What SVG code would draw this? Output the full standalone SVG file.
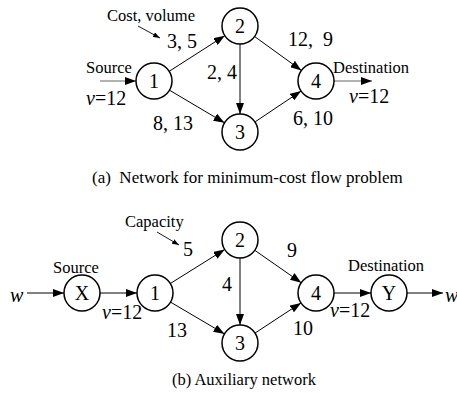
<svg xmlns="http://www.w3.org/2000/svg" width="457" height="393" viewBox="0 0 457 393" font-family="'Liberation Serif', 'Times New Roman', Times, 'DejaVu Serif', serif">
<style>
text{font-family:'Liberation Serif','Times New Roman',Times,'DejaVu Serif',serif;fill:#000}
.lbl{font-size:16.5px}
.num{font-size:20px}
.nd{font-size:20px;text-anchor:middle}
.cap{font-size:17px}
.it{font-style:italic}
circle{fill:#fff;stroke:#000;stroke-width:1.5}
.e{stroke:#000;stroke-width:1;fill:none;marker-end:url(#ah)}
.g{stroke:#666;stroke-width:1.2;fill:none;marker-end:url(#ah)}
.p{stroke:#000;stroke-width:0.9;fill:none;marker-end:url(#sh)}
</style>
<defs>
<marker id="ah" markerUnits="userSpaceOnUse" markerWidth="11" markerHeight="8" refX="11" refY="4" orient="auto"><path d="M0,0 L11,4 L0,8 z" fill="#000"/></marker>
<marker id="sh" markerUnits="userSpaceOnUse" markerWidth="7" markerHeight="5" refX="7" refY="2.5" orient="auto"><path d="M0,0 L7,2.5 L0,5 z" fill="#000"/></marker>
</defs>
<g id="connectors">
<line class="g" x1="100" y1="81" x2="136" y2="81"/>
<line class="e" x1="169.2" y1="71.3" x2="224.8" y2="35.7"/>
<line class="e" x1="169.5" y1="90.2" x2="224.5" y2="122.8"/>
<line class="e" x1="240" y1="44" x2="240" y2="114"/>
<line class="e" x1="254.6" y1="36.5" x2="301.4" y2="70.4"/>
<line class="e" x1="254.9" y1="122" x2="301.1" y2="91"/>
<line class="g" x1="334" y1="81" x2="372" y2="81"/>
<line class="p" x1="138" y1="26" x2="160" y2="38"/>
<line class="e" x1="27" y1="293" x2="64" y2="293"/>
<line class="e" x1="100" y1="293" x2="137" y2="293"/>
<line class="e" x1="170.3" y1="283.5" x2="224.7" y2="249.5"/>
<line class="e" x1="170.5" y1="302.1" x2="224.5" y2="333.9"/>
<line class="e" x1="240" y1="258" x2="240" y2="325"/>
<line class="e" x1="254.8" y1="250.3" x2="301.2" y2="282.7"/>
<line class="e" x1="255" y1="333.1" x2="301" y2="302.9"/>
<line class="e" x1="334" y1="293" x2="371" y2="293"/>
<line class="e" x1="407" y1="293" x2="443" y2="293"/>
<line class="p" x1="157" y1="232" x2="179" y2="245"/>
</g>
<g id="a-n1"><circle cx="154" cy="81" r="18"/><text class="nd" x="154" y="88">1</text></g>
<g id="a-n2"><circle cx="240" cy="26" r="18"/><text class="nd" x="240" y="33">2</text></g>
<g id="a-n3"><circle cx="240" cy="132" r="18"/><text class="nd" x="240" y="139">3</text></g>
<g id="a-n4"><circle cx="316" cy="81" r="18"/><text class="nd" x="316" y="88">4</text></g>
<g id="b-nX"><circle cx="82" cy="293" r="18"/><text class="nd" x="82" y="300">X</text></g>
<g id="b-n1"><circle cx="155" cy="293" r="18"/><text class="nd" x="155" y="300">1</text></g>
<g id="b-n2"><circle cx="240" cy="240" r="18"/><text class="nd" x="240" y="247">2</text></g>
<g id="b-n3"><circle cx="240" cy="343" r="18"/><text class="nd" x="240" y="350">3</text></g>
<g id="b-n4"><circle cx="316" cy="293" r="18"/><text class="nd" x="316" y="300">4</text></g>
<g id="b-nY"><circle cx="389" cy="293" r="18"/><text class="nd" x="389" y="300">Y</text></g>
<g id="labels">
<text class="lbl" x="107" y="21">Cost, volume</text>
<text class="num" x="167" y="48">3, 5</text>
<text class="lbl" x="86" y="73">Source</text>
<text class="num" x="86" y="105"><tspan class="it">v</tspan>=12</text>
<text class="num" x="153" y="130">8, 13</text>
<text class="num" x="207" y="79">2, 4</text>
<text class="num" x="288" y="46" xml:space="preserve">12,  9</text>
<text class="lbl" x="333" y="73">Destination</text>
<text class="num" x="349" y="103"><tspan class="it">v</tspan>=12</text>
<text class="num" x="293" y="125">6, 10</text>
<text class="cap" x="92" y="183" xml:space="preserve">(a)  Network for minimum-cost flow problem</text>
<text class="num it" x="10" y="302">w</text>
<text class="lbl" x="53" y="273">Source</text>
<text class="num" x="102" y="319"><tspan class="it">v</tspan>=12</text>
<text class="lbl" x="125" y="227">Capacity</text>
<text class="num" x="183" y="256">5</text>
<text class="num" x="167" y="337">13</text>
<text class="num" x="222" y="291">4</text>
<text class="num" x="287" y="257">9</text>
<text class="num" x="293" y="335">10</text>
<text class="lbl" x="348" y="271">Destination</text>
<text class="num" x="330" y="317"><tspan class="it">v</tspan>=12</text>
<text class="num it" x="445" y="302">w</text>
<text class="cap" x="172" y="385" style="font-size:16.5px">(b) Auxiliary network</text>
</g>
</svg>
